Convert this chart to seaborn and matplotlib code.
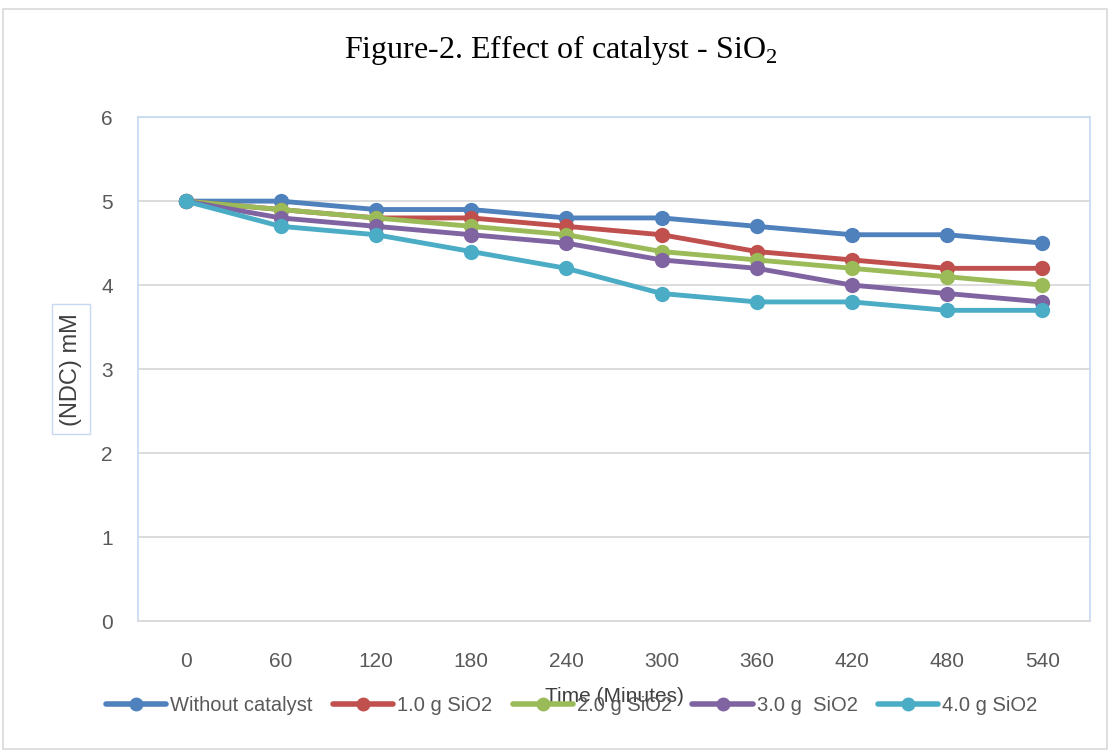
import matplotlib.pyplot as plt
import seaborn as sns
import pandas as pd
from matplotlib.patches import Rectangle

# Data
time_min = [0, 60, 120, 180, 240, 300, 360, 420, 480, 540]
without_catalyst = [5.0, 5.0, 4.9, 4.9, 4.8, 4.8, 4.7, 4.6, 4.6, 4.5]
sio2_1g = [5.0, 4.9, 4.8, 4.8, 4.7, 4.6, 4.4, 4.3, 4.2, 4.2]
sio2_2g = [5.0, 4.9, 4.8, 4.7, 4.6, 4.4, 4.3, 4.2, 4.1, 4.0]
sio2_3g = [5.0, 4.8, 4.7, 4.6, 4.5, 4.3, 4.2, 4.0, 3.9, 3.8]
sio2_4g = [5.0, 4.7, 4.6, 4.4, 4.2, 3.9, 3.8, 3.8, 3.7, 3.7]

series_names = ['Without catalyst', '1.0 g SiO2', '2.0 g SiO2', '3.0 g  SiO2', '4.0 g SiO2']
series_values = [without_catalyst, sio2_1g, sio2_2g, sio2_3g, sio2_4g]
colors = ['#4F81BD', '#C0504D', '#9BBB59', '#8064A2', '#4BACC6']

df = pd.concat(
    [pd.DataFrame({'time': time_min, 'ndc': vals, 'series': name})
     for name, vals in zip(series_names, series_values)],
    ignore_index=True,
)

sns.set_theme(style="white")
plt.rcParams['font.family'] = ['Liberation Sans', 'DejaVu Sans']

fig = plt.figure(figsize=(11.1, 7.51), dpi=100)
ax = fig.add_axes([0.1243, 0.173, 0.8577, 0.671])

# outer frame of the chart
fig.patches.append(Rectangle((0.003, 0.003), 0.994, 0.985, transform=fig.transFigure,
                             fill=False, edgecolor='#D9D9D9', linewidth=1.2))

sns.lineplot(data=df, x='time', y='ndc', hue='series', palette=colors,
             marker='o', markersize=11, markeredgewidth=0, linewidth=3.5,
             ax=ax, legend=False)

ax.set_xlim(-30, 570)
ax.set_ylim(0, 6)
ax.set_xticks(time_min)
ax.set_yticks(range(0, 7))
ax.yaxis.grid(True, color='#D9D9D9', linewidth=1.3)
ax.set_axisbelow(True)

for side in ['left', 'top', 'right']:
    ax.spines[side].set_color('#C6D9F1')
    ax.spines[side].set_linewidth(1.2)
ax.spines['bottom'].set_color('#D9D9D9')
ax.spines['bottom'].set_linewidth(1.3)

ax.tick_params(axis='both', length=0, labelsize=15, labelcolor='#595959')
ax.tick_params(axis='x', pad=22)
ax.tick_params(axis='y', pad=18)

ax.set_xlabel('Time (Minutes)', fontsize=15, color='#404040', labelpad=12)
ax.set_ylabel('(NDC) mM', fontsize=17, color='#404040', labelpad=14,
              bbox=dict(boxstyle='square,pad=0.35', facecolor='white', edgecolor='#C6D9F1'))

fig.text(0.505, 0.934, r'Figure-2. Effect of catalyst - SiO$_\mathregular{2}$',
         ha='center', va='center', fontsize=23, family='Liberation Serif', color='black')

handles = [plt.Line2D([0], [0], color=c, marker='o', markersize=10, linewidth=4,
                      markeredgewidth=0) for c in colors]
fig.legend(handles, series_names, loc='center', bbox_to_anchor=(0.515, 0.06), ncol=5,
           frameon=False, fontsize=14.5, handlelength=3, handletextpad=0.2,
           columnspacing=1.0, labelcolor='#595959')

fig.savefig('out.png', dpi=100)
